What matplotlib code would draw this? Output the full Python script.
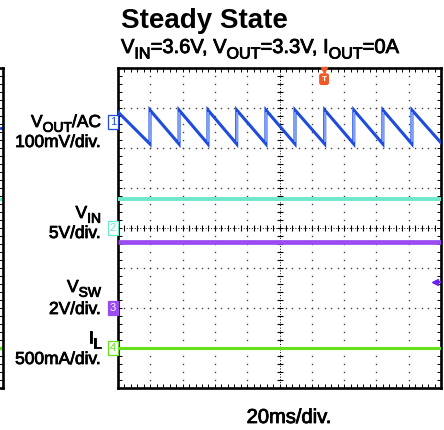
import matplotlib

# Use non-GUI backend
matplotlib.use('Agg')

import matplotlib.pyplot as plt
import matplotlib.patheffects as pe
from matplotlib.ticker import MultipleLocator

plt.rcParams['font.family'] = ['Liberation Sans', 'DejaVu Sans']

# -----------------------------
# DATA (read off the scope shot)
# -----------------------------
time_per_div_ms = 20.0
time_span_ms = 200.0

# VOUT/AC sawtooth: instants where the ripple jumps up (ms)
ripple_jump_ms = [19.8, 37.8, 55.7, 73.5, 91.6, 109.6, 128.0, 146.0, 164.0, 182.0]
ripple_peak_mv = 30.0
ripple_trough_mv = -55.0
ripple_start_mv = 25.0
ripple_end_mv = -52.0

vin_v = 3.6
vsw_v = 3.3
il_a = 0.0

# channel scales (units / div) and ground marker positions (div from bottom)
ch_scale = [100.0, 5.0, 2.0, 0.5]
ch_offset_div = [6.65, 4.0, 2.0, 1.0]
ch_names = ["1", "2", "3", "4"]
ch_colors = ["#1f4cdc", "#6ee8cc", "#9a4cf0", "#66e01a"]

trigger_time_ms = 127.6
trigger_level_v = 1.3

# -----------------------------
# FIGURE
# -----------------------------
W, H = 444, 430
fig = plt.figure(figsize=(W / 100, H / 100), dpi=100)
renderer = fig.canvas.get_renderer()


def fx(px):
    return px / W


def fy(py):
    return 1 - py / H


heavy = [pe.withStroke(linewidth=0.6, foreground='black')]


def rich_text(x, y, parts, size, ha='left', weight='normal', effects=None):
    # text with real subscripts, placed piece by piece (pixel coords)
    items = []
    for s, sub in parts:
        fs = size * 0.8 if sub else size
        t = fig.text(0, 0, s, fontsize=fs, fontweight=weight, va='baseline',
                     ha='left', path_effects=effects)
        w = t.get_window_extent(renderer).width
        items.append((t, w, sub))
    total = sum(w for _, w, _ in items)
    if ha == 'right':
        x0 = x - total
    elif ha == 'center':
        x0 = x - total / 2
    else:
        x0 = x
    for t, w, sub in items:
        dy = size * 0.38 if sub else 0
        t.set_position((fx(x0), fy(y + dy)))
        x0 += w


ax = fig.add_axes([fx(118), fy(388), fx(441) - fx(118), fy(68) - fy(388)])
ax.set_xlim(0, 10)
ax.set_ylim(0, 8)

# partial neighbour screen on the far left
axl = fig.add_axes([fx(3) - (fx(441) - fx(118)), fy(388), fx(441) - fx(118), fy(68) - fy(388)])
axl.set_xlim(0, 10)
axl.set_ylim(0, 8)

for a in (ax, axl):
    for s in a.spines.values():
        s.set_linewidth(1.9)
        s.set_color('black')
    a.xaxis.set_major_locator(MultipleLocator(1))
    a.yaxis.set_major_locator(MultipleLocator(1))
    a.xaxis.set_minor_locator(MultipleLocator(0.2))
    a.yaxis.set_minor_locator(MultipleLocator(0.2))
    a.tick_params(which='both', direction='in', length=3, width=0.7,
                  top=True, right=True, labelbottom=False, labelleft=False)

# dotted graticule
grid_xs = [i * 0.2 for i in range(51)]
grid_ys = [i * 0.2 for i in range(41)]
for k in range(1, 10):
    if k == 5:
        continue
    ax.plot([k] * len(grid_ys), grid_ys, ls='none', marker='s', ms=1.0,
            mew=0, color='#444444', zorder=1)
for k in range(1, 8):
    if k == 4:
        continue
    ax.plot(grid_xs, [k] * len(grid_xs), ls='none', marker='s', ms=1.0,
            mew=0, color='#444444', zorder=1)

# centre cross lines with ticks
ax.plot([5, 5], [0, 8], ls=(0, (1, 1.8)), lw=0.7, color='black', zorder=1)
ax.plot([0, 10], [4, 4], ls=(0, (1, 1.8)), lw=0.7, color='black', zorder=1)
ax.plot([5] * len(grid_ys), grid_ys, ls='none', marker='_', ms=4.5, mew=0.8,
        color='black', zorder=1)
ax.plot(grid_xs, [4] * len(grid_xs), ls='none', marker='|', ms=4.5, mew=0.8,
        color='black', zorder=1)

# -----------------------------
# TRACES
# -----------------------------
# VOUT/AC ripple
t = [0.0]
v = [ripple_start_mv]
for tj in ripple_jump_ms:
    t += [tj, tj]
    v += [ripple_trough_mv, ripple_peak_mv]
t.append(time_span_ms)
v.append(ripple_end_mv)
xs = [ti / time_per_div_ms for ti in t]
ys = [ch_offset_div[0] + vi / ch_scale[0] for vi in v]
ax.plot(xs, ys, color=ch_colors[0], lw=2.2, zorder=3, solid_joinstyle='miter')
# lighter vertical edges
for tj in ripple_jump_ms:
    ax.plot([tj / time_per_div_ms] * 2,
            [ch_offset_div[0] + ripple_trough_mv / ch_scale[0] + 0.08,
             ch_offset_div[0] + ripple_peak_mv / ch_scale[0] - 0.08],
            color='#8fb0ff', lw=1.2, zorder=4)

levels = [vin_v / ch_scale[1] + ch_offset_div[1],
          vsw_v / ch_scale[2] + ch_offset_div[2],
          il_a / ch_scale[3] + ch_offset_div[3]]
widths = [2.8, 3.4, 2.2]
for lvl, col, lw in zip(levels, ch_colors[1:], widths):
    ax.plot([0, 10], [lvl, lvl], color=col, lw=lw, zorder=3, solid_capstyle='butt')

# tails of the neighbour screen
axl.plot([9.2, 10], [ch_offset_div[0] - 0.15] * 2, color=ch_colors[0], lw=2)
axl.plot([9.2, 10], [levels[0]] * 2, color=ch_colors[1], lw=2.5)
axl.plot([9.75, 9.75], [2.2, 4.5], color=ch_colors[2], lw=2.5)
axl.plot([9.2, 10], [levels[2]] * 2, color=ch_colors[3], lw=2.5)

# channel ground markers
for name, off, col in zip(ch_names, ch_offset_div, ch_colors):
    filled = name == "3"
    ax.text(-0.06, off, name, ha='right', va='center', fontsize=8,
            color='white' if filled else col, clip_on=False, zorder=5,
            bbox=dict(boxstyle='square,pad=0.15', fc=col if filled else 'white',
                      ec=col, lw=0.9))

# trigger position marker (top)
ax.plot([trigger_time_ms / time_per_div_ms], [7.95], marker='v', ms=5,
        color='#f05a24', clip_on=False, zorder=6)
ax.text(trigger_time_ms / time_per_div_ms, 7.72, "T", ha='center', va='center',
        fontsize=6, color='white', fontweight='bold', zorder=6,
        bbox=dict(boxstyle='round,pad=0.2', fc='#f05a24', ec='#f05a24'))

# trigger level marker (right)
ax.plot([9.82], [ch_offset_div[2] + trigger_level_v / ch_scale[2]], marker='<',
        ms=5, color='#6a22f0', zorder=6)
ax.plot([9.82, 10], [ch_offset_div[2] + trigger_level_v / ch_scale[2]] * 2,
        color='#6a22f0', lw=1.5, zorder=6)

# -----------------------------
# TEXT
# -----------------------------
fig.text(fx(121), fy(28), "Steady State", fontsize=20, fontweight='bold',
         ha='left', va='baseline')
rich_text(121, 53, [("V", False), ("IN", True), ("=3.6V, V", False), ("OUT", True),
                    ("=3.3V, I", False), ("OUT", True), ("=0A", False)],
          14.5, effects=heavy)

labels = [
    ([("V", False), ("OUT", True), ("/AC", False)], 127),
    ([("100mV/div.", False)], 147),
    ([("V", False), ("IN", True)], 218),
    ([("5V/div.", False)], 238),
    ([("V", False), ("SW", True)], 292),
    ([("2V/div.", False)], 314),
    ([("I", False), ("L", True)], 343),
    ([("500mA/div.", False)], 364),
]
for parts, base in labels:
    rich_text(101, base, parts, 12.5, ha='right', effects=heavy)

fig.text(fx(289), fy(423), "20ms/div.", fontsize=14.5, ha='center', va='baseline',
         path_effects=heavy)

fig.savefig("out.png", dpi=100)
plt.close(fig)
